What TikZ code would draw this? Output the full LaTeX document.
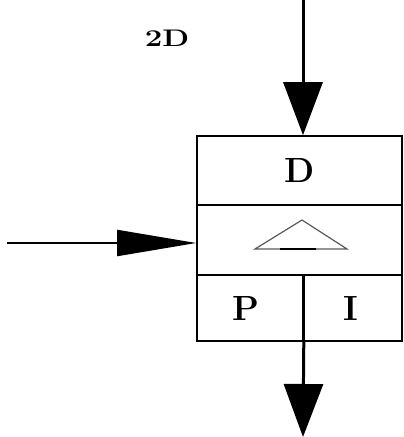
\documentclass[tikz,border=0pt]{standalone}
\usepackage{fontspec}
\usetikzlibrary{arrows.meta}
\begin{document}
\begin{tikzpicture}[x=1pt,y=1pt,
  cell/.style={draw=black, line width=1.6pt, inner sep=0pt, font=\bfseries\fontsize{35}{35}\selectfont},
  vtip/.style={-{Triangle[length=53pt,width=39pt]}, line width=3pt},
  htip/.style={-{Triangle[length=79pt,width=26pt]}, line width=2pt}]
\useasboundingbox (0,0) rectangle (404,-437);
\node[cell, minimum width=205pt, minimum height=69pt] (D) at (299.5,-170.5) {D};
\node[cell, minimum width=205pt, minimum height=70pt] (T) at (299.5,-240) {};
\node[cell, minimum width=106pt, minimum height=66pt] (P) at (250,-308) {};
\node[cell, minimum width=99pt, minimum height=66pt] (I) at (352.5,-308) {};
\node[font=\bfseries\fontsize{35}{35}\selectfont] (Pt) at (246,-308) {P};
\node[font=\bfseries\fontsize{35}{35}\selectfont] (It) at (351,-308) {I};
\draw[gray!70!black, line width=1.2pt] (302,-220) -- (255,-249) -- (347,-249) -- cycle;
\draw[black, line width=1.2pt] (280,-249) -- (316,-249);
\node[font=\bfseries\fontsize{24}{24}\selectfont, xscale=1.3, transform shape] (lbl) at (167,-38) {2D};
\coordinate (top) at (303,0);
\coordinate (bot) at (303,-437);
\coordinate (lin) at (7,-243);
\draw[vtip] (top) -- (top |- D.north);
\draw[line width=3pt] (P.north east) -- (P.south east);
\draw[vtip] (P.south east) -- (bot);
\draw[htip] (lin) -- (lin -| T.west);
\end{tikzpicture}
\end{document}
